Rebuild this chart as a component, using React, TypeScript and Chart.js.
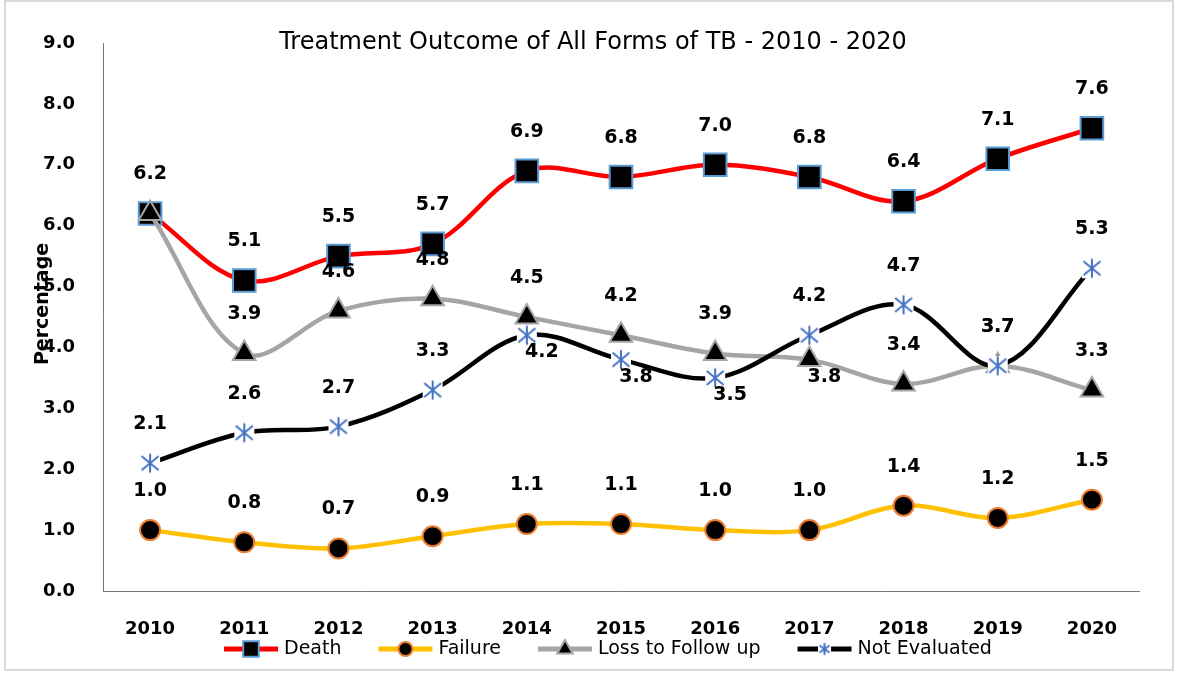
import React, { useEffect, useRef } from 'react';
import { Chart, registerables } from 'chart.js';
import { drawPoint } from 'chart.js/helpers';

Chart.register(...registerables);

// ---------- data ----------
const years = ['2010', '2011', '2012', '2013', '2014', '2015', '2016', '2017', '2018', '2019', '2020'];
const death = [6.2, 5.1, 5.5, 5.7, 6.9, 6.8, 7.0, 6.8, 6.4, 7.1, 7.6];
const failure = [1.0, 0.8, 0.7, 0.9, 1.1, 1.1, 1.0, 1.0, 1.4, 1.2, 1.5];
const lossToFollowUp = [6.2, 3.9, 4.6, 4.8, 4.5, 4.2, 3.9, 3.8, 3.4, 3.7, 3.3];
const notEvaluated = [2.1, 2.6, 2.7, 3.3, 4.2, 3.8, 3.5, 4.2, 4.7, 3.7, 5.3];
const seriesNames = ['Death', 'Failure', 'Loss to Follow up', 'Not Evaluated'];
const titleText = 'Treatment Outcome of All Forms of TB - 2010 - 2020';
const yAxisTitle = 'Percentage';

// label placement per point (kept apart from values)
const deathLabelPos = ['above', 'above', 'above', 'above', 'above', 'above', 'above', 'above', 'above', 'above', 'above'];
const failureLabelPos = ['above', 'above', 'above', 'above', 'above', 'above', 'above', 'above', 'above', 'above', 'above'];
const ltfuLabelPos = ['none', 'above', 'above', 'above', 'above', 'above', 'above', 'below', 'above', 'above', 'above'];
const neLabelPos = ['above', 'above', 'above', 'above', 'below', 'below', 'below', 'above', 'above', 'above', 'above'];
const labelPositions = [deathLabelPos, failureLabelPos, ltfuLabelPos, neLabelPos];

const NUM_FONT = '"DejaVu Sans", sans-serif';

function makeStarMarker(size: number): HTMLCanvasElement {
  const c = document.createElement('canvas');
  c.width = size;
  c.height = size;
  const g = c.getContext('2d')!;
  g.fillStyle = '#ffffff';
  g.fillRect(1, 1, size - 2, size - 2);
  g.strokeStyle = '#4472c4';
  g.lineWidth = 2;
  g.lineCap = 'butt';
  const m = size / 2;
  const p = 1.5;
  g.beginPath();
  g.moveTo(m, p);
  g.lineTo(m, size - p);
  g.moveTo(p + 1, p + 2.5);
  g.lineTo(size - p - 1, size - p - 2.5);
  g.moveTo(size - p - 1, p + 2.5);
  g.lineTo(p + 1, size - p - 2.5);
  g.stroke();
  return c;
}

export default function App() {
  const ref = useRef<HTMLCanvasElement | null>(null);

  useEffect(() => {
    document.body.style.margin = '0';
    const canvas = ref.current;
    if (!canvas) return;
    const star = makeStarMarker(22);
    const starSmall = makeStarMarker(15);

    const overlay = {
      id: 'overlay',
      afterDatasetsDraw(chart: any) {
        const ctx = chart.ctx as CanvasRenderingContext2D;
        ctx.save();
        ctx.font = `bold 19px ${NUM_FONT}`;
        ctx.fillStyle = '#000000';
        ctx.textAlign = 'center';
        ctx.textBaseline = 'middle';
        chart.data.datasets.forEach((ds: any, i: number) => {
          const meta = chart.getDatasetMeta(i);
          const pos = labelPositions[i];
          meta.data.forEach((pt: any, j: number) => {
            const p = pos[j];
            if (p === 'none') return;
            const x = pt.x + (p === 'below' ? 15 : 0);
            const y = pt.y + (p === 'below' ? 17 : -39);
            ctx.fillText(Number(ds.data[j]).toFixed(1), x, y);
          });
        });
        ctx.restore();
      },
      afterDraw(chart: any) {
        const ctx = chart.ctx as CanvasRenderingContext2D;
        ctx.save();
        // title
        ctx.fillStyle = '#000000';
        ctx.font = `24px ${NUM_FONT}`;
        ctx.textAlign = 'center';
        ctx.textBaseline = 'middle';
        ctx.fillText(titleText, 593, 43);
        // y axis title
        ctx.save();
        ctx.translate(43, 304);
        ctx.rotate(-Math.PI / 2);
        ctx.font = `bold 19px ${NUM_FONT}`;
        ctx.fillText(yAxisTitle, 0, 0);
        ctx.restore();
        // legend
        ctx.font = `19px ${NUM_FONT}`;
        ctx.textAlign = 'left';
        let x = 224;
        const y = 649;
        chart.data.datasets.forEach((ds: any, i: number) => {
          ctx.strokeStyle = ds.borderColor;
          ctx.lineWidth = 5;
          ctx.beginPath();
          ctx.moveTo(x, y);
          ctx.lineTo(x + 54, y);
          ctx.stroke();
          const mx = x + 27;
          if (i === 3) {
            ctx.drawImage(starSmall, mx - 7.5, y - 7.5);
          } else {
            ctx.fillStyle = ds.pointBackgroundColor;
            ctx.strokeStyle = ds.pointBorderColor;
            ctx.lineWidth = 2;
            const r = i === 0 ? 11 : i === 1 ? 7 : 9;
            drawPoint(ctx, { pointStyle: ds.pointStyle, radius: r, rotation: 0, borderWidth: 2 } as any, mx, y);
          }
          ctx.fillStyle = '#000000';
          ctx.fillText(seriesNames[i], x + 60, y);
          x += 60 + ctx.measureText(seriesNames[i]).width + 37;
        });
        ctx.restore();
      },
    };

    const chart = new Chart(canvas, {
      type: 'line',
      data: {
        labels: years,
        datasets: [
          {
            label: seriesNames[0],
            data: death,
            borderColor: '#ff0000',
            borderWidth: 4.5,
            pointStyle: 'rect',
            pointRadius: 16,
            pointBackgroundColor: '#000000',
            pointBorderColor: '#5b9bd5',
            pointBorderWidth: 2,
            tension: 0.35,
            order: 3,
          },
          {
            label: seriesNames[1],
            data: failure,
            borderColor: '#ffc000',
            borderWidth: 4.5,
            pointStyle: 'circle',
            pointRadius: 10,
            pointBackgroundColor: '#000000',
            pointBorderColor: '#ed7d31',
            pointBorderWidth: 2,
            tension: 0.35,
            order: 2,
          },
          {
            label: seriesNames[2],
            data: lossToFollowUp,
            borderColor: '#a5a5a5',
            borderWidth: 4.5,
            pointStyle: 'triangle',
            pointRadius: 13,
            pointBackgroundColor: '#000000',
            pointBorderColor: '#a5a5a5',
            pointBorderWidth: 2,
            tension: 0.35,
            order: 1,
          },
          {
            label: seriesNames[3],
            data: notEvaluated,
            borderColor: '#000000',
            borderWidth: 4.5,
            pointStyle: star as any,
            pointRadius: 11,
            pointBackgroundColor: '#ffffff',
            pointBorderColor: '#4472c4',
            tension: 0.35,
            order: 0,
          },
        ],
      },
      options: {
        responsive: false,
        animation: false,
        events: [],
        layout: { padding: { top: 43, right: 39, bottom: 0, left: 0 } },
        plugins: {
          legend: { display: false },
          title: { display: false },
          tooltip: { enabled: false },
        },
        scales: {
          x: {
            type: 'category',
            offset: true,
            grid: { display: false },
            border: { display: true, color: '#767676', width: 1 },
            ticks: {
              color: '#000000',
              font: { family: NUM_FONT, size: 18, weight: 'bold' },
              padding: 20,
              maxRotation: 0,
            },
            afterFit: (s: any) => {
              s.height = 82;
            },
          },
          y: {
            min: 0,
            max: 9,
            grid: { display: false },
            border: { display: true, color: '#767676', width: 1 },
            ticks: {
              stepSize: 1,
              color: '#000000',
              font: { family: NUM_FONT, size: 18, weight: 'bold' },
              padding: 20,
              callback: (v: any) => Number(v).toFixed(1),
            },
            afterFit: (s: any) => {
              s.width = 103;
            },
          },
        },
      },
      plugins: [overlay],
    });
    return () => chart.destroy();
  }, []);

  return (
    <div style={{ position: 'fixed', left: 0, top: 0, width: 1178, height: 673, background: '#ffffff' }}>
      <canvas ref={ref} width={1178} height={673} style={{ position: 'absolute', left: 0, top: 0 }} />
      <div
        style={{
          position: 'absolute',
          left: 4,
          top: 0,
          width: 1170,
          height: 671,
          border: '2px solid #d9d9d9',
          boxSizing: 'border-box',
          pointerEvents: 'none',
        }}
      />
    </div>
  );
}
